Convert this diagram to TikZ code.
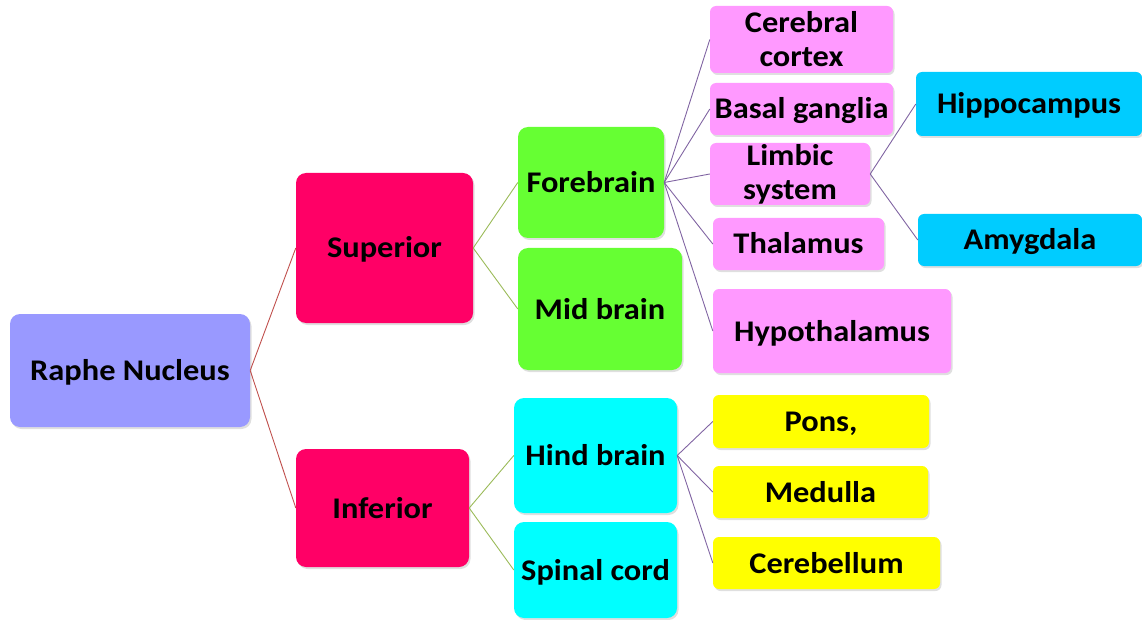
\documentclass[tikz,border=0pt]{standalone}
\usepackage{fontspec}
\setmainfont{Carlito}[FakeStretch=1.08]
\usetikzlibrary{shadows}
\definecolor{cRaphe}{HTML}{9999FF}
\definecolor{cRed}{HTML}{FF0066}
\definecolor{cGreen}{HTML}{66FF33}
\definecolor{cPink}{HTML}{FF99FF}
\definecolor{cBlue}{HTML}{00CCFF}
\definecolor{cCyan}{HTML}{00FFFF}
\definecolor{cYellow}{HTML}{FFFF00}
\definecolor{lRed}{HTML}{C0504D}
\definecolor{lGreen}{HTML}{9BBB59}
\definecolor{lPurple}{HTML}{8064A2}
\tikzset{
  box/.style={rounded corners=#1, inner sep=0pt, align=center, text=black,
    font=\fontsize{30}{34}\selectfont\bfseries,
    drop shadow={shadow xshift=1.5pt, shadow yshift=-2pt, opacity=0.25}},
  box/.default=10pt,
  oneline/.style={text height=20pt, text depth=0pt},
  linkR/.style={draw=lRed, line width=0.9pt},
  linkG/.style={draw=lGreen, line width=0.9pt},
  linkP/.style={draw=lPurple, line width=0.9pt},
}
% \bx{name}{x1}{y1}{x2}{y2}{colour}{styles}{text}
\newcommand{\bx}[8]{%
  \node[#7, fill=#6, minimum width={(#4-#2)*1pt}, minimum height={(#5-#3)*1pt}]
    (#1) at ({(#2+#4)/2},{(#3+#5)/2}) {#8};}
\begin{document}
\begin{tikzpicture}[x=1pt,y=-1pt]
\useasboundingbox (0,0) rectangle (1142,620);
\bx{raphe}{10}{314}{250}{427}{cRaphe}{box=10pt,oneline}{Raphe Nucleus}
\bx{sup}{296}{173}{473}{323}{cRed}{box=10pt,oneline}{Superior}
\bx{inf}{296}{449}{469}{567}{cRed}{box=10pt,oneline}{Inferior}
\bx{fore}{518}{127}{664}{238}{cGreen}{box=10pt,oneline}{Forebrain}
\bx{mid}{518}{248}{682}{370}{cGreen}{box=10pt,oneline}{Mid brain}
\bx{hind}{514}{398}{677}{513}{cCyan}{box=10pt,oneline}{Hind brain}
\bx{spinal}{514}{522}{677}{618}{cCyan}{box=10pt,oneline}{Spinal cord}
\bx{cortex}{710}{6}{893}{73}{cPink}{box=6pt}{Cerebral\\cortex}
\bx{basal}{710}{83}{893}{135}{cPink}{box=6pt,oneline}{Basal ganglia}
\bx{limbic}{710}{143}{870}{205}{cPink}{box=6pt}{Limbic\\system}
\bx{thal}{713}{218}{884}{270}{cPink}{box=6pt,oneline}{Thalamus}
\bx{hypo}{713}{289}{951}{373}{cPink}{box=6pt,oneline}{Hypothalamus}
\bx{hippo}{916}{72}{1142}{136}{cBlue}{box=6pt,oneline}{Hippocampus}
\bx{amyg}{918}{214}{1142}{266}{cBlue}{box=6pt,oneline}{Amygdala}
\bx{pons}{713}{395}{929}{448}{cYellow}{box=6pt,oneline}{Pons,}
\bx{medulla}{713}{466}{928}{518}{cYellow}{box=6pt,oneline}{Medulla}
\bx{cereb}{713}{537}{940}{589}{cYellow}{box=6pt,oneline}{Cerebellum}
\draw[linkR] (raphe.east) -- (sup.west);
\draw[linkR] (raphe.east) -- (inf.west);
\draw[linkG] (sup.east) -- (fore.west);
\draw[linkG] (sup.east) -- (mid.west);
\draw[linkG] (inf.east) -- (hind.west);
\draw[linkG] (inf.east) -- (spinal.west);
\foreach \t in {cortex,basal,limbic,thal,hypo}
  \draw[linkP] (fore.east) -- (\t.west);
\draw[linkP] (limbic.east) -- (hippo.west);
\draw[linkP] (limbic.east) -- (amyg.west);
\foreach \t in {pons,medulla,cereb}
  \draw[linkP] (hind.east) -- (\t.west);
\end{tikzpicture}
\end{document}
